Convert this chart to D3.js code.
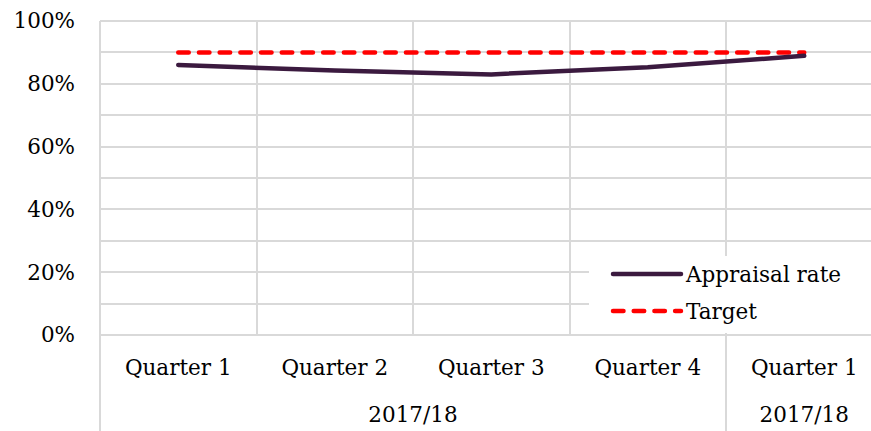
<!DOCTYPE html>
<html>
<head>
<meta charset="utf-8">
<script src="https://cdn.jsdelivr.net/npm/d3@7"></script>
<style>
  body { margin: 0; background: #fff; }
  svg text { font-family: "DejaVu Serif", Georgia, serif; fill: #000; }
</style>
</head>
<body>
<svg width="871" height="431"></svg>
<script>
// chart data
var quarters = ["Quarter 1", "Quarter 2", "Quarter 3", "Quarter 4", "Quarter 1"];
var years = [{label: "2017/18", from: 0, to: 4}, {label: "2017/18", from: 4, to: 5}];
var appraisal = [0.86, 0.842, 0.83, 0.853, 0.889];
var target = [0.90, 0.90, 0.90, 0.90, 0.90];
var yTicks = [0, 0.2, 0.4, 0.6, 0.8, 1.0];
var gridTicks = d3.range(0, 1.0001, 0.1);

var plotL = 100, plotT = 21, plotB = 335;
var bandW = 156.5;
var fontSize = "21.5px";
var fontFam = "'DejaVu Serif', Georgia, serif";

var svg = d3.select("svg");

var x = d3.scaleBand()
  .domain(d3.range(quarters.length))
  .range([plotL, plotL + bandW * quarters.length]);
var y = d3.scaleLinear().domain([0, 1]).range([plotB, plotT]);

var grid = "#d9d9d9";

// horizontal gridlines
svg.append("g").selectAll("line")
  .data(gridTicks)
  .enter().append("line")
  .attr("x1", plotL).attr("x2", 871)
  .attr("y1", function(d){ return Math.round(y(d)); })
  .attr("y2", function(d){ return Math.round(y(d)); })
  .attr("stroke", grid).attr("stroke-width", 2);

// vertical gridlines between categories
svg.append("g").selectAll("line")
  .data(d3.range(quarters.length + 1))
  .enter().append("line")
  .attr("x1", function(i){ return Math.round(plotL + i * bandW); })
  .attr("x2", function(i){ return Math.round(plotL + i * bandW); })
  .attr("y1", plotT).attr("y2", plotB)
  .attr("stroke", grid).attr("stroke-width", 2);

// group separators in the axis area
var seps = [0].concat(years.map(function(g){ return g.to; }));
svg.append("g").selectAll("line")
  .data(seps)
  .enter().append("line")
  .attr("x1", function(i){ return Math.round(plotL + i * bandW); })
  .attr("x2", function(i){ return Math.round(plotL + i * bandW); })
  .attr("y1", plotB).attr("y2", 431)
  .attr("stroke", grid).attr("stroke-width", 2);

// y axis labels
var yAxis = d3.axisLeft(y)
  .tickValues(yTicks)
  .tickFormat(d3.format(".0%"))
  .tickSize(0)
  .tickPadding(25);
var ya = svg.append("g")
  .attr("transform", "translate(" + plotL + ",0)")
  .call(yAxis);
ya.select(".domain").remove();
ya.selectAll("text").style("font-size", fontSize).style("font-family", fontFam);

// category labels
var xa = svg.append("g")
  .attr("transform", "translate(0," + plotB + ")")
  .call(d3.axisBottom(x).tickFormat(function(i){ return quarters[i]; }).tickSize(0).tickPadding(25));
xa.select(".domain").remove();
xa.selectAll("text").style("font-size", fontSize).style("font-family", fontFam);

// year group labels
svg.append("g").selectAll("text")
  .data(years)
  .enter().append("text")
  .attr("x", function(g){ return plotL + (g.from + g.to) / 2 * bandW; })
  .attr("y", 422)
  .attr("text-anchor", "middle")
  .style("font-size", fontSize)
  .text(function(g){ return g.label; });

var cx = function(d, i){ return x(i) + x.bandwidth() / 2; };

// target line
svg.append("path")
  .datum(target)
  .attr("d", d3.line().x(cx).y(function(d){ return y(d); }))
  .attr("fill", "none")
  .attr("stroke", "#ff0000")
  .attr("stroke-width", 4.5)
  .attr("stroke-linecap", "round")
  .attr("stroke-dasharray", "10.5,10.2");

// appraisal line
svg.append("path")
  .datum(appraisal)
  .attr("d", d3.line().x(cx).y(function(d){ return y(d); }))
  .attr("fill", "none")
  .attr("stroke", "#3b1a3f")
  .attr("stroke-width", 4.5)
  .attr("stroke-linecap", "round")
  .attr("stroke-linejoin", "round");

// legend
var lg = svg.append("g");
lg.append("rect")
  .attr("x", 589).attr("y", 256)
  .attr("width", 290).attr("height", 77)
  .attr("fill", "#fff");
var items = [
  {name: "Appraisal rate", color: "#3b1a3f", dash: null, y: 274},
  {name: "Target", color: "#ff0000", dash: "10.5,10.2", y: 311}
];
items.forEach(function(it){
  lg.append("line")
    .attr("x1", 613).attr("x2", 681)
    .attr("y1", it.y).attr("y2", it.y)
    .attr("stroke", it.color)
    .attr("stroke-width", 4.5)
    .attr("stroke-linecap", "round")
    .attr("stroke-dasharray", it.dash);
  lg.append("text")
    .attr("x", 686).attr("y", it.y + 8)
    .style("font-size", fontSize)
    .text(it.name);
});
</script>
</body>
</html>
